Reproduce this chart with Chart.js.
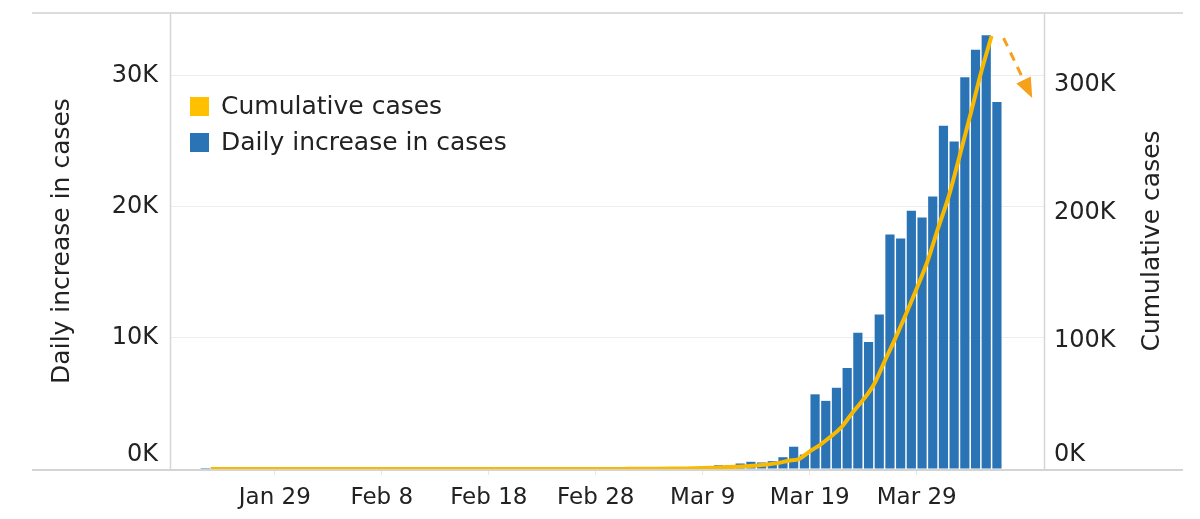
<!DOCTYPE html>
<html>
<head>
<meta charset="utf-8">
<script src="https://cdn.jsdelivr.net/npm/chart.js@4.4.1/dist/chart.umd.min.js"></script>
<style>
  html, body { margin: 0; padding: 0; background: #fff; }
</style>
</head>
<body>
<canvas id="myChart" width="1200" height="519"></canvas>
<script>
// x axis is "days since Jan 22"; bars sit in the middle of their day
var tickLabels = ['Jan 29', 'Feb 8', 'Feb 18', 'Feb 28', 'Mar 9', 'Mar 19', 'Mar 29'];
var tickDays = [7, 17, 27, 37, 47, 57, 67];
var dailyTicks = [0, 10000, 20000, 30000];
var cumulativeTicks = [0, 100000, 200000, 300000];

// daily new cases, Jan 22 .. Apr 5
var dailyCases = [
  1, 0, 1, 0, 3, 0, 0, 0, 0, 1,
  1, 2, 0, 0, 1, 0, 0, 0, 1, 0, 1, 0, 1, 0, 0, 0, 0, 0, 0, 0, 2, 0, 0, 0, 0, 0, 1, 1, 9,
  8, 23, 20, 31, 70, 80, 100, 120, 120, 290, 280, 420, 550, 500,
  600, 900, 1700, 1100, 5700, 5200, 6200, 7700, 10400, 9700, 11800, 17900, 17600, 19700, 19200, 20800, 26200,
  25000, 29900, 32000, 33100, 28000
];

// cumulative cases, Jan 23 .. Apr 5 (drawn at the start of each day)
var cumulativeCases = [
  1, 2, 2, 5, 5, 5, 5, 5, 6,
  7, 8, 11, 11, 12, 12, 12, 12, 12, 12, 13, 13, 15, 15, 15, 15, 15, 15, 15, 15, 35, 35, 35, 53, 53, 59, 60, 62, 70,
  80, 100, 120, 150, 220, 320, 430, 540, 700, 1000, 1300, 1700, 2200, 2700, 3500, 4600, 6400, 7800,
  13700, 19100, 25500, 33000, 44000, 54000, 66000, 84000, 102000, 121000, 141000, 162000, 188000,
  213000, 244000, 276000, 309000, 338000
];

var seriesNames = ['Cumulative cases', 'Daily increase in cases'];

var FONT = 'DejaVu Sans';
var TEXT = '#222222';

function kLabel(v) {
  if (v === 0) return ['0K', ''];   // lift the zero label off the baseline
  return (v / 1000) + 'K';
}

function fixedTicks(values) {
  return function(scale) {
    scale.ticks = values.map(function(v) { return {value: v}; });
  };
}

function fixWidth(w) {
  return function(scale) {
    scale.width = w;
    scale.paddingTop = 0;
    scale.paddingBottom = 0;
  };
}

var framePlugin = {
  id: 'frame',
  beforeDatasetsDraw: function(chart) {
    var ctx = chart.ctx, a = chart.chartArea;
    ctx.save();
    ctx.strokeStyle = '#dcdcdc';
    ctx.lineWidth = 2;
    ctx.beginPath();
    ctx.moveTo(32, a.top); ctx.lineTo(1183, a.top);
    ctx.stroke();
    ctx.strokeStyle = '#d6d6d6';
    ctx.lineWidth = 1.5;
    ctx.beginPath();
    ctx.moveTo(a.left + 0.5, a.top); ctx.lineTo(a.left + 0.5, a.bottom);
    ctx.moveTo(a.right + 0.5, a.top); ctx.lineTo(a.right + 0.5, a.bottom);
    ctx.stroke();
    ctx.restore();
  },
  afterDatasetsDraw: function(chart) {
    var ctx = chart.ctx, a = chart.chartArea;
    ctx.save();
    ctx.strokeStyle = '#d4d4d4';
    ctx.lineWidth = 2;
    ctx.beginPath();
    ctx.moveTo(32, a.bottom + 1); ctx.lineTo(1183, a.bottom + 1);
    ctx.stroke();
    ctx.restore();
  }
};

var extrasPlugin = {
  id: 'extras',
  afterDraw: function(chart) {
    var ctx = chart.ctx, a = chart.chartArea;
    ctx.save();

    // legend inside the plot
    var colors = ['#ffc000', '#2a74b6'];
    ctx.font = '25px "' + FONT + '"';
    ctx.textBaseline = 'middle';
    ctx.textAlign = 'left';
    for (var i = 0; i < seriesNames.length; i++) {
      var cy = a.top + 93 + i * 36;
      ctx.fillStyle = colors[i];
      ctx.fillRect(a.left + 20, cy - 9, 19, 19);
      ctx.fillStyle = TEXT;
      ctx.fillText(seriesNames[i], a.left + 51, cy + 1);
    }

    // right axis title, reading upwards
    ctx.save();
    ctx.translate(1152, (a.top + a.bottom) / 2);
    ctx.rotate(-Math.PI / 2);
    ctx.textAlign = 'center';
    ctx.fillText('Cumulative cases', 0, 0);
    ctx.restore();

    // dashed arrow next to the last cumulative point
    var pts = chart.getDatasetMeta(0).data;
    var p = pts[pts.length - 1];
    var x0 = p.x + 12, y0 = p.y + 2;
    var x1 = p.x + 32, y1 = p.y + 44;
    ctx.strokeStyle = '#f7a11a';
    ctx.fillStyle = '#f7a11a';
    ctx.lineWidth = 3;
    ctx.setLineDash([9, 7]);
    ctx.beginPath();
    ctx.moveTo(x0, y0); ctx.lineTo(x1, y1);
    ctx.stroke();
    ctx.setLineDash([]);
    var ang = Math.atan2(y1 - y0, x1 - x0);
    var tipX = x1 + Math.cos(ang) * 20, tipY = y1 + Math.sin(ang) * 20;
    ctx.beginPath();
    ctx.moveTo(tipX, tipY);
    ctx.lineTo(x1 + Math.cos(ang + Math.PI / 2) * 8, y1 + Math.sin(ang + Math.PI / 2) * 8);
    ctx.lineTo(x1 + Math.cos(ang - Math.PI / 2) * 8, y1 + Math.sin(ang - Math.PI / 2) * 8);
    ctx.closePath();
    ctx.fill();

    ctx.restore();
  }
};

var ctx = document.getElementById('myChart').getContext('2d');
var myChart = new Chart(ctx, {
  type: 'bar',
  data: {
    datasets: [
      {
        type: 'line',
        label: seriesNames[0],
        data: cumulativeCases.map(function(v, i) { return {x: i + 1, y: v}; }),
        yAxisID: 'y2',
        borderColor: '#f9b900',
        borderWidth: 4,
        pointRadius: 0,
        cubicInterpolationMode: 'monotone',
        order: 0
      },
      {
        label: seriesNames[1],
        data: dailyCases.map(function(v, i) { return {x: i + 0.5, y: v}; }),
        yAxisID: 'y',
        backgroundColor: '#2a74b6',
        barPercentage: 0.86,
        categoryPercentage: 1,
        order: 1
      }
    ]
  },
  options: {
    responsive: false,
    animation: false,
    layout: { padding: { top: 13, left: 0, right: 0, bottom: 0 } },
    plugins: {
      legend: { display: false },
      tooltip: { enabled: false }
    },
    scales: {
      x: {
        type: 'linear',
        offset: false,
        min: -2.8,
        max: 78.9,
        afterBuildTicks: fixedTicks(tickDays),
        afterFit: function(scale) {
          scale.height = 50;
          scale.paddingLeft = 0;
          scale.paddingRight = 0;
        },
        grid: { offset: false, drawOnChartArea: false, drawTicks: true, tickLength: 6, color: '#e6e6e6' },
        border: { display: false },
        ticks: {
          autoSkip: false,
          maxRotation: 0,
          padding: 9,
          color: TEXT,
          font: { family: FONT, size: 23 },
          callback: function(value, index) { return tickLabels[index]; }
        }
      },
      y: {
        position: 'left',
        min: 0,
        max: 34800,
        afterBuildTicks: fixedTicks(dailyTicks),
        afterFit: fixWidth(170),
        grid: { color: '#ededed', drawTicks: false },
        border: { display: false },
        ticks: {
          padding: 12,
          color: TEXT,
          font: { family: FONT, size: 24 },
          callback: kLabel
        },
        title: {
          display: true,
          text: 'Daily increase in cases',
          color: TEXT,
          font: { family: FONT, size: 25 },
          padding: { top: 47, bottom: 0 }
        }
      },
      y2: {
        position: 'right',
        min: 0,
        max: 356000,
        afterBuildTicks: fixedTicks(cumulativeTicks),
        afterFit: fixWidth(156),
        grid: { display: false, drawTicks: false },
        border: { display: false },
        ticks: {
          padding: 10,
          color: TEXT,
          font: { family: FONT, size: 24 },
          callback: kLabel
        }
      }
    }
  },
  plugins: [framePlugin, extrasPlugin]
});
</script>
</body>
</html>
